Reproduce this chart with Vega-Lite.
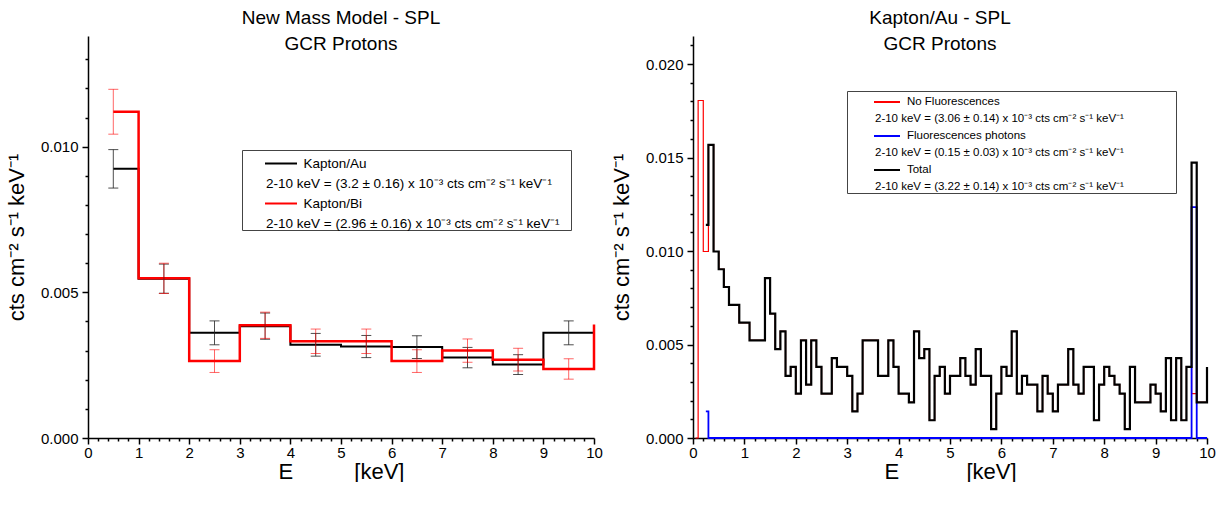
{
  "$schema": "https://vega.github.io/schema/vega-lite/v6.json",
  "background": "white",
  "padding": {"left": 5, "top": 9, "right": 0, "bottom": 0},
  "spacing": 7,
  "resolve": {"scale": {"color": "independent"}, "legend": {"color": "independent"}},
  "config": {
    "font": "Liberation Sans",
    "view": {"stroke": null},
    "axis": {"domainColor": "black", "domainWidth": 1.5, "tickColor": "black", "tickWidth": 1.5, "labelFont": "Liberation Sans", "labelFontSize": 15, "labelColor": "black", "titleFont": "Liberation Sans", "titleFontSize": 22, "titleFontWeight": "normal", "titleColor": "black", "grid": false, "labelFlush": false, "labelOverlap": false, "labelBound": false},
    "title": {"font": "Liberation Sans", "fontSize": 19, "fontWeight": "normal", "color": "black", "lineHeight": 26, "offset": -18, "anchor": "middle"}
  },
  "datasets": {
    "left": [
      {"x": 0.5, "xc": 0.5, "au": 0.00924, "auErr": 0.00066, "bi": 0.0112, "biErr": 0.00077},
      {"x": 1, "xc": 1.5, "au": 0.00547, "auErr": 0.0005, "bi": 0.00548, "biErr": 0.00052},
      {"x": 2, "xc": 2.5, "au": 0.00361, "auErr": 0.00041, "bi": 0.00264, "biErr": 0.00039},
      {"x": 3, "xc": 3.5, "au": 0.00384, "auErr": 0.00045, "bi": 0.00387, "biErr": 0.00045},
      {"x": 4, "xc": 4.5, "au": 0.0032, "auErr": 0.00039, "bi": 0.00332, "biErr": 0.00042},
      {"x": 5, "xc": 5.5, "au": 0.00314, "auErr": 0.00038, "bi": 0.00332, "biErr": 0.00042},
      {"x": 6, "xc": 6.5, "au": 0.00312, "auErr": 0.00039, "bi": 0.00264, "biErr": 0.00039},
      {"x": 7, "xc": 7.5, "au": 0.00276, "auErr": 0.00035, "bi": 0.003, "biErr": 0.0004},
      {"x": 8, "xc": 8.5, "au": 0.00252, "auErr": 0.00034, "bi": 0.00269, "biErr": 0.00039},
      {"x": 9, "xc": 9.5, "au": 0.00361, "auErr": 0.00041, "bi": 0.00237, "biErr": 0.00035},
      {"x": 10, "au": 0.00361, "bi": 0.0039}
    ],
    "right": [
      {"E": 0.05, "nofl": 0},
      {"E": 0.1, "nofl": 0.01805},
      {"E": 0.2, "nofl": 0.009975},
      {"E": 0.25, "fl": 0.001425, "total": 0.0114},
      {"E": 0.3, "nofl": 0.015675, "fl": 0, "total": 0.015675},
      {"E": 0.4, "nofl": 0.009975, "fl": 0, "total": 0.009975},
      {"E": 0.5, "nofl": 0.009025, "fl": 0, "total": 0.009025},
      {"E": 0.6, "nofl": 0.008075, "fl": 0, "total": 0.008075},
      {"E": 0.7, "nofl": 0.007125, "fl": 0, "total": 0.007125},
      {"E": 0.8, "nofl": 0.007125, "fl": 0, "total": 0.007125},
      {"E": 0.9, "nofl": 0.006175, "fl": 0, "total": 0.006175},
      {"E": 1.0, "nofl": 0.006175, "fl": 0, "total": 0.006175},
      {"E": 1.1, "nofl": 0.005225, "fl": 0, "total": 0.005225},
      {"E": 1.2, "nofl": 0.005225, "fl": 0, "total": 0.005225},
      {"E": 1.3, "nofl": 0.005225, "fl": 0, "total": 0.005225},
      {"E": 1.4, "nofl": 0.00855, "fl": 0, "total": 0.00855},
      {"E": 1.5, "nofl": 0.00665, "fl": 0, "total": 0.00665},
      {"E": 1.6, "nofl": 0.00475, "fl": 0, "total": 0.00475},
      {"E": 1.7, "nofl": 0.0057, "fl": 0, "total": 0.0057},
      {"E": 1.8, "nofl": 0.003325, "fl": 0, "total": 0.003325},
      {"E": 1.9, "nofl": 0.0038, "fl": 0, "total": 0.0038},
      {"E": 2.0, "nofl": 0.002375, "fl": 0, "total": 0.002375},
      {"E": 2.1, "nofl": 0.005225, "fl": 0, "total": 0.005225},
      {"E": 2.2, "nofl": 0.00285, "fl": 0, "total": 0.00285},
      {"E": 2.3, "nofl": 0.005225, "fl": 0, "total": 0.005225},
      {"E": 2.4, "nofl": 0.0038, "fl": 0, "total": 0.0038},
      {"E": 2.5, "nofl": 0.002375, "fl": 0, "total": 0.002375},
      {"E": 2.6, "nofl": 0.002375, "fl": 0, "total": 0.002375},
      {"E": 2.7, "nofl": 0.004275, "fl": 0, "total": 0.004275},
      {"E": 2.8, "nofl": 0.0038, "fl": 0, "total": 0.0038},
      {"E": 2.9, "nofl": 0.0038, "fl": 0, "total": 0.0038},
      {"E": 3.0, "nofl": 0.003325, "fl": 0, "total": 0.003325},
      {"E": 3.1, "nofl": 0.001425, "fl": 0, "total": 0.001425},
      {"E": 3.2, "nofl": 0.002375, "fl": 0, "total": 0.002375},
      {"E": 3.3, "nofl": 0.005225, "fl": 0, "total": 0.005225},
      {"E": 3.4, "nofl": 0.005225, "fl": 0, "total": 0.005225},
      {"E": 3.5, "nofl": 0.005225, "fl": 0, "total": 0.005225},
      {"E": 3.6, "nofl": 0.003325, "fl": 0, "total": 0.003325},
      {"E": 3.7, "nofl": 0.003325, "fl": 0, "total": 0.003325},
      {"E": 3.8, "nofl": 0.005225, "fl": 0, "total": 0.005225},
      {"E": 3.9, "nofl": 0.0038, "fl": 0, "total": 0.0038},
      {"E": 4.0, "nofl": 0.002375, "fl": 0, "total": 0.002375},
      {"E": 4.1, "nofl": 0.002375, "fl": 0, "total": 0.002375},
      {"E": 4.2, "nofl": 0.0019, "fl": 0, "total": 0.0019},
      {"E": 4.3, "nofl": 0.0057, "fl": 0, "total": 0.0057},
      {"E": 4.4, "nofl": 0.004275, "fl": 0, "total": 0.004275},
      {"E": 4.5, "nofl": 0.00475, "fl": 0, "total": 0.00475},
      {"E": 4.6, "nofl": 0.00095, "fl": 0, "total": 0.00095},
      {"E": 4.7, "nofl": 0.003325, "fl": 0, "total": 0.003325},
      {"E": 4.8, "nofl": 0.0038, "fl": 0, "total": 0.0038},
      {"E": 4.9, "nofl": 0.002375, "fl": 0, "total": 0.002375},
      {"E": 5.0, "nofl": 0.003325, "fl": 0, "total": 0.003325},
      {"E": 5.1, "nofl": 0.003325, "fl": 0, "total": 0.003325},
      {"E": 5.2, "nofl": 0.004275, "fl": 0, "total": 0.004275},
      {"E": 5.3, "nofl": 0.003325, "fl": 0, "total": 0.003325},
      {"E": 5.4, "nofl": 0.00285, "fl": 0, "total": 0.00285},
      {"E": 5.5, "nofl": 0.00475, "fl": 0, "total": 0.00475},
      {"E": 5.6, "nofl": 0.003325, "fl": 0, "total": 0.003325},
      {"E": 5.7, "nofl": 0.003325, "fl": 0, "total": 0.003325},
      {"E": 5.8, "nofl": 0.000475, "fl": 0, "total": 0.000475},
      {"E": 5.9, "nofl": 0.002375, "fl": 0, "total": 0.002375},
      {"E": 6.0, "nofl": 0.0038, "fl": 0, "total": 0.0038},
      {"E": 6.1, "nofl": 0.003325, "fl": 0, "total": 0.003325},
      {"E": 6.2, "nofl": 0.0057, "fl": 0, "total": 0.0057},
      {"E": 6.3, "nofl": 0.002375, "fl": 0, "total": 0.002375},
      {"E": 6.4, "nofl": 0.003325, "fl": 0, "total": 0.003325},
      {"E": 6.5, "nofl": 0.00285, "fl": 0, "total": 0.00285},
      {"E": 6.6, "nofl": 0.00285, "fl": 0, "total": 0.00285},
      {"E": 6.7, "nofl": 0.001425, "fl": 0, "total": 0.001425},
      {"E": 6.8, "nofl": 0.003325, "fl": 0, "total": 0.003325},
      {"E": 6.9, "nofl": 0.002375, "fl": 0, "total": 0.002375},
      {"E": 7.0, "nofl": 0.001425, "fl": 0, "total": 0.001425},
      {"E": 7.1, "nofl": 0.00285, "fl": 0, "total": 0.00285},
      {"E": 7.2, "nofl": 0.00285, "fl": 0, "total": 0.00285},
      {"E": 7.3, "nofl": 0.00475, "fl": 0, "total": 0.00475},
      {"E": 7.4, "nofl": 0.00285, "fl": 0, "total": 0.00285},
      {"E": 7.5, "nofl": 0.002375, "fl": 0, "total": 0.002375},
      {"E": 7.6, "nofl": 0.0038, "fl": 0, "total": 0.0038},
      {"E": 7.7, "nofl": 0.0038, "fl": 0, "total": 0.0038},
      {"E": 7.8, "nofl": 0.00095, "fl": 0, "total": 0.00095},
      {"E": 7.9, "nofl": 0.00285, "fl": 0, "total": 0.00285},
      {"E": 8.0, "nofl": 0.0038, "fl": 0, "total": 0.0038},
      {"E": 8.1, "nofl": 0.003325, "fl": 0, "total": 0.003325},
      {"E": 8.2, "nofl": 0.00285, "fl": 0, "total": 0.00285},
      {"E": 8.3, "nofl": 0.002375, "fl": 0, "total": 0.002375},
      {"E": 8.4, "nofl": 0.000475, "fl": 0, "total": 0.000475},
      {"E": 8.5, "nofl": 0.0038, "fl": 0, "total": 0.0038},
      {"E": 8.6, "nofl": 0.0019, "fl": 0, "total": 0.0019},
      {"E": 8.7, "nofl": 0.0019, "fl": 0, "total": 0.0019},
      {"E": 8.8, "nofl": 0.0019, "fl": 0, "total": 0.0019},
      {"E": 8.9, "nofl": 0.00285, "fl": 0, "total": 0.00285},
      {"E": 9.0, "nofl": 0.002375, "fl": 0, "total": 0.002375},
      {"E": 9.1, "nofl": 0.001425, "fl": 0, "total": 0.001425},
      {"E": 9.2, "nofl": 0.004275, "fl": 0, "total": 0.004275},
      {"E": 9.3, "nofl": 0.00095, "fl": 0, "total": 0.00095},
      {"E": 9.4, "nofl": 0.004275, "fl": 0, "total": 0.004275},
      {"E": 9.5, "nofl": 0.00095, "fl": 0, "total": 0.00095},
      {"E": 9.6, "nofl": 0.0038, "fl": 0, "total": 0.0038},
      {"E": 9.7, "nofl": 0.002375, "fl": 0.01235, "total": 0.014725},
      {"E": 9.8, "nofl": 0.0019, "fl": 0, "total": 0.0019},
      {"E": 9.9, "nofl": 0.0019, "fl": 0, "total": 0.0019},
      {"E": 10.0, "nofl": 0.0038, "fl": 0, "total": 0.0038}
    ]
  },
  "hconcat": [
    {
      "width": 506,
      "height": 402,
      "title": {"text": ["New Mass Model - SPL", "GCR Protons"]},
      "data": {"name": "left"},
      "layer": [
        {
          "mark": {"type": "line", "interpolate": "step-after", "strokeWidth": 2, "invalid": "filter"},
          "encoding": {
            "x": {"field": "x", "type": "quantitative", "scale": {"domain": [0, 10], "nice": false},
              "axis": {"values": [0,0.2,0.4,0.6,0.8,1,1.2,1.4,1.6,1.8,2,2.2,2.4,2.6,2.8,3,3.2,3.4,3.6,3.8,4,4.2,4.4,4.6,4.8,5,5.2,5.4,5.6,5.8,6,6.2,6.4,6.6,6.8,7,7.2,7.4,7.6,7.8,8,8.2,8.4,8.6,8.8,9,9.2,9.4,9.6,9.8,10],
                "labelExpr": "round(datum.value*10) % 10 === 0 ? format(datum.value, 'd') : ''",
                "tickSize": {"condition": {"test": "round(datum.value*10) % 10 === 0", "value": 6}, "value": 3},
                "labelPadding": 1, "titlePadding": 1,
                "title": "\u00a0\u00a0E\u00a0\u00a0\u00a0\u00a0\u00a0\u00a0\u00a0\u00a0\u00a0\u00a0[keV]"}},
            "y": {"field": "au", "type": "quantitative", "scale": {"domain": [0, 0.0138], "nice": false},
              "axis": {"values": [0,0.001,0.002,0.003,0.004,0.005,0.006,0.007,0.008,0.009,0.01,0.011,0.012,0.013],
                "labelExpr": "round(datum.value*1000) % 5 === 0 ? format(datum.value, '.3f') : ''",
                "tickSize": {"condition": {"test": "round(datum.value*1000) % 5 === 0", "value": 6}, "value": 3},
                "labelPadding": 4, "minExtent": 52, "maxExtent": 52, "titlePadding": 8,
                "title": "cts cm\u207b\u00b2 s\u207b\u00b9 keV\u207b\u00b9"}},
            "color": {"datum": "Kapton/Au", "type": "nominal",
              "scale": {"domain": ["Kapton/Au", "Kapton/Au stat", "Kapton/Bi", "Kapton/Bi stat"], "range": ["#000000", "transparent", "#ff0000", "transparent"]},
              "legend": {"orient": "none", "legendX": 154, "legendY": 114, "direction": "vertical", "title": null,
                "symbolType": "stroke", "symbolSize": 1024, "symbolStrokeWidth": 2, "symbolOffset": 22, "labelOffset": -32,
                "labelFont": "Liberation Sans", "labelFontSize": 13.5, "labelColor": "black", "labelLimit": 1000, "labelBaseline": "middle",
                "padding": 0, "rowPadding": 0, "strokeColor": "#444", "fillColor": "white",
                "labelExpr": "datum.label === 'Kapton/Au' ? '\u200b\u00a0\u00a0\u00a0\u00a0\u00a0\u00a0\u00a0\u00a0\u00a0\u00a0Kapton/Au' : datum.label === 'Kapton/Bi' ? '\u200b\u00a0\u00a0\u00a0\u00a0\u00a0\u00a0\u00a0\u00a0\u00a0\u00a0Kapton/Bi' : datum.label === 'Kapton/Au stat' ? '2-10 keV = (3.2 \u00b1 0.16) x 10\u207b\u00b3 cts cm\u207b\u00b2 s\u207b\u00b9 keV\u207b\u00b9' : '2-10 keV = (2.96 \u00b1 0.16) x 10\u207b\u00b3 cts cm\u207b\u00b2 s\u207b\u00b9 keV\u207b\u00b9\u00a0\u00a0\u00a0\u200b'",
                "encode": {"symbols": {"update": {"y": {"value": 13.5}}}, "labels": {"update": {"y": {"value": 13.5}}}}}}
          }
        },
        {
          "mark": {"type": "line", "interpolate": "step-after", "strokeWidth": 2.5, "invalid": "filter"},
          "encoding": {
            "x": {"field": "x", "type": "quantitative", "scale": {"domain": [0, 10], "nice": false},
              "axis": {"values": [0,0.2,0.4,0.6,0.8,1,1.2,1.4,1.6,1.8,2,2.2,2.4,2.6,2.8,3,3.2,3.4,3.6,3.8,4,4.2,4.4,4.6,4.8,5,5.2,5.4,5.6,5.8,6,6.2,6.4,6.6,6.8,7,7.2,7.4,7.6,7.8,8,8.2,8.4,8.6,8.8,9,9.2,9.4,9.6,9.8,10],
                "labelExpr": "round(datum.value*10) % 10 === 0 ? format(datum.value, 'd') : ''",
                "tickSize": {"condition": {"test": "round(datum.value*10) % 10 === 0", "value": 6}, "value": 3},
                "labelPadding": 1, "titlePadding": 1,
                "title": "\u00a0\u00a0E\u00a0\u00a0\u00a0\u00a0\u00a0\u00a0\u00a0\u00a0\u00a0\u00a0[keV]"}},
            "y": {"field": "bi", "type": "quantitative", "scale": {"domain": [0, 0.0138], "nice": false},
              "axis": {"values": [0,0.001,0.002,0.003,0.004,0.005,0.006,0.007,0.008,0.009,0.01,0.011,0.012,0.013],
                "labelExpr": "round(datum.value*1000) % 5 === 0 ? format(datum.value, '.3f') : ''",
                "tickSize": {"condition": {"test": "round(datum.value*1000) % 5 === 0", "value": 6}, "value": 3},
                "labelPadding": 4, "minExtent": 52, "maxExtent": 52, "titlePadding": 8,
                "title": "cts cm\u207b\u00b2 s\u207b\u00b9 keV\u207b\u00b9"}},
            "color": {"datum": "Kapton/Bi", "type": "nominal"}
          }
        },
        {
          "transform": [{"filter": "datum.xc != null"}],
          "mark": {"type": "errorbar", "color": "#222222", "opacity": 0.8, "ticks": {"size": 10, "thickness": 1}, "rule": {"strokeWidth": 1}},
          "encoding": {
            "x": {"field": "xc", "type": "quantitative", "scale": {"domain": [0, 10], "nice": false},
              "axis": {"values": [0,0.2,0.4,0.6,0.8,1,1.2,1.4,1.6,1.8,2,2.2,2.4,2.6,2.8,3,3.2,3.4,3.6,3.8,4,4.2,4.4,4.6,4.8,5,5.2,5.4,5.6,5.8,6,6.2,6.4,6.6,6.8,7,7.2,7.4,7.6,7.8,8,8.2,8.4,8.6,8.8,9,9.2,9.4,9.6,9.8,10],
                "labelExpr": "round(datum.value*10) % 10 === 0 ? format(datum.value, 'd') : ''",
                "tickSize": {"condition": {"test": "round(datum.value*10) % 10 === 0", "value": 6}, "value": 3},
                "labelPadding": 1, "titlePadding": 1,
                "title": "\u00a0\u00a0E\u00a0\u00a0\u00a0\u00a0\u00a0\u00a0\u00a0\u00a0\u00a0\u00a0[keV]"}},
            "y": {"field": "au", "type": "quantitative", "scale": {"domain": [0, 0.0138], "nice": false},
              "axis": {"values": [0,0.001,0.002,0.003,0.004,0.005,0.006,0.007,0.008,0.009,0.01,0.011,0.012,0.013],
                "labelExpr": "round(datum.value*1000) % 5 === 0 ? format(datum.value, '.3f') : ''",
                "tickSize": {"condition": {"test": "round(datum.value*1000) % 5 === 0", "value": 6}, "value": 3},
                "labelPadding": 4, "minExtent": 52, "maxExtent": 52, "titlePadding": 8,
                "title": "cts cm\u207b\u00b2 s\u207b\u00b9 keV\u207b\u00b9"}},
            "yError": {"field": "auErr"}
          }
        },
        {
          "transform": [{"filter": "datum.xc != null"}],
          "mark": {"type": "errorbar", "color": "#ff0000", "opacity": 0.6, "ticks": {"size": 10, "thickness": 1}, "rule": {"strokeWidth": 1}},
          "encoding": {
            "x": {"field": "xc", "type": "quantitative", "scale": {"domain": [0, 10], "nice": false},
              "axis": {"values": [0,0.2,0.4,0.6,0.8,1,1.2,1.4,1.6,1.8,2,2.2,2.4,2.6,2.8,3,3.2,3.4,3.6,3.8,4,4.2,4.4,4.6,4.8,5,5.2,5.4,5.6,5.8,6,6.2,6.4,6.6,6.8,7,7.2,7.4,7.6,7.8,8,8.2,8.4,8.6,8.8,9,9.2,9.4,9.6,9.8,10],
                "labelExpr": "round(datum.value*10) % 10 === 0 ? format(datum.value, 'd') : ''",
                "tickSize": {"condition": {"test": "round(datum.value*10) % 10 === 0", "value": 6}, "value": 3},
                "labelPadding": 1, "titlePadding": 1,
                "title": "\u00a0\u00a0E\u00a0\u00a0\u00a0\u00a0\u00a0\u00a0\u00a0\u00a0\u00a0\u00a0[keV]"}},
            "y": {"field": "bi", "type": "quantitative", "scale": {"domain": [0, 0.0138], "nice": false},
              "axis": {"values": [0,0.001,0.002,0.003,0.004,0.005,0.006,0.007,0.008,0.009,0.01,0.011,0.012,0.013],
                "labelExpr": "round(datum.value*1000) % 5 === 0 ? format(datum.value, '.3f') : ''",
                "tickSize": {"condition": {"test": "round(datum.value*1000) % 5 === 0", "value": 6}, "value": 3},
                "labelPadding": 4, "minExtent": 52, "maxExtent": 52, "titlePadding": 8,
                "title": "cts cm\u207b\u00b2 s\u207b\u00b9 keV\u207b\u00b9"}},
            "yError": {"field": "biErr"}
          }
        }
      ]
    },
    {
      "width": 514,
      "height": 402,
      "title": {"text": ["Kapton/Au - SPL", "GCR Protons"], "dx": -10},
      "data": {"name": "right"},
      "encoding": {
        "x": {"field": "E", "type": "quantitative", "scale": {"domain": [0, 10], "nice": false},
          "axis": {"values": [0,0.2,0.4,0.6,0.8,1,1.2,1.4,1.6,1.8,2,2.2,2.4,2.6,2.8,3,3.2,3.4,3.6,3.8,4,4.2,4.4,4.6,4.8,5,5.2,5.4,5.6,5.8,6,6.2,6.4,6.6,6.8,7,7.2,7.4,7.6,7.8,8,8.2,8.4,8.6,8.8,9,9.2,9.4,9.6,9.8,10],
            "labelExpr": "round(datum.value*10) % 10 === 0 ? format(datum.value, 'd') : ''",
            "tickSize": {"condition": {"test": "round(datum.value*10) % 10 === 0", "value": 6}, "value": 3},
            "labelPadding": 1, "titlePadding": 1,
            "title": "E\u00a0\u00a0\u00a0\u00a0\u00a0\u00a0\u00a0\u00a0\u00a0\u00a0\u00a0[keV]"}}
      },
      "layer": [
        {
          "mark": {"type": "line", "interpolate": "step-after", "strokeWidth": 1.2, "invalid": "filter"},
          "encoding": {
            "y": {"field": "nofl", "type": "quantitative", "scale": {"domain": [0, 0.0215], "nice": false},
              "axis": {"values": [0,0.001,0.002,0.003,0.004,0.005,0.006,0.007,0.008,0.009,0.01,0.011,0.012,0.013,0.014,0.015,0.016,0.017,0.018,0.019,0.02,0.021],
                "labelExpr": "round(datum.value*1000) % 5 === 0 ? format(datum.value, '.3f') : ''",
                "tickSize": {"condition": {"test": "round(datum.value*1000) % 5 === 0", "value": 6}, "value": 3},
                "labelPadding": 4, "minExtent": 52, "maxExtent": 52, "titlePadding": 8,
                "title": "cts cm\u207b\u00b2 s\u207b\u00b9 keV\u207b\u00b9"}},
            "color": {"datum": "No Fluorescences", "type": "nominal",
              "scale": {"domain": ["No Fluorescences", "No Fluorescences stat", "Fluorescences photons", "Fluorescences photons stat", "Total", "Total stat"], "range": ["#ff0000", "transparent", "#0000ff", "transparent", "#000000", "transparent"]},
              "legend": {"orient": "none", "legendX": 154, "legendY": 55, "direction": "vertical", "title": null,
                "symbolType": "stroke", "symbolSize": 676, "symbolStrokeWidth": 2, "symbolOffset": 26, "labelOffset": -26,
                "labelFont": "Liberation Sans", "labelFontSize": 11.5, "labelColor": "black", "labelLimit": 1000, "labelBaseline": "middle",
                "padding": 0, "rowPadding": 0, "strokeColor": "#444", "fillColor": "white",
                "labelExpr": "datum.label === 'No Fluorescences stat' ? '2-10 keV = (3.06 \u00b1 0.14) x 10\u207b\u00b3 cts cm\u207b\u00b2 s\u207b\u00b9 keV\u207b\u00b9\u00a0\u00a0\u00a0\u00a0\u00a0\u00a0\u00a0\u00a0\u00a0\u00a0\u00a0\u00a0\u00a0\u00a0\u00a0\u00a0\u200b' : datum.label === 'Fluorescences photons stat' ? '2-10 keV = (0.15 \u00b1 0.03) x 10\u207b\u00b3 cts cm\u207b\u00b2 s\u207b\u00b9 keV\u207b\u00b9\u00a0\u00a0\u00a0\u00a0\u00a0\u00a0\u00a0\u00a0\u00a0\u00a0\u00a0\u00a0\u00a0\u00a0\u00a0\u00a0\u200b' : datum.label === 'Total stat' ? '2-10 keV = (3.22 \u00b1 0.14) x 10\u207b\u00b3 cts cm\u207b\u00b2 s\u207b\u00b9 keV\u207b\u00b9\u00a0\u00a0\u00a0\u00a0\u00a0\u00a0\u00a0\u00a0\u00a0\u00a0\u00a0\u00a0\u00a0\u00a0\u00a0\u00a0\u200b' : '\u200b\u00a0\u00a0\u00a0\u00a0\u00a0\u00a0\u00a0\u00a0\u00a0\u00a0' + datum.label",
                "encode": {"symbols": {"update": {"y": {"value": 11}}}, "labels": {"update": {"y": {"value": 11}}}}}}
          }
        },
        {
          "mark": {"type": "line", "interpolate": "step-after", "strokeWidth": 1.8, "invalid": "filter"},
          "encoding": {
            "y": {"field": "fl", "type": "quantitative", "scale": {"domain": [0, 0.0215], "nice": false},
              "axis": {"values": [0,0.001,0.002,0.003,0.004,0.005,0.006,0.007,0.008,0.009,0.01,0.011,0.012,0.013,0.014,0.015,0.016,0.017,0.018,0.019,0.02,0.021],
                "labelExpr": "round(datum.value*1000) % 5 === 0 ? format(datum.value, '.3f') : ''",
                "tickSize": {"condition": {"test": "round(datum.value*1000) % 5 === 0", "value": 6}, "value": 3},
                "labelPadding": 4, "minExtent": 52, "maxExtent": 52, "titlePadding": 8,
                "title": "cts cm\u207b\u00b2 s\u207b\u00b9 keV\u207b\u00b9"}},
            "color": {"datum": "Fluorescences photons", "type": "nominal"}
          }
        },
        {
          "mark": {"type": "line", "interpolate": "step-after", "strokeWidth": 2.2, "invalid": "filter"},
          "encoding": {
            "y": {"field": "total", "type": "quantitative", "scale": {"domain": [0, 0.0215], "nice": false},
              "axis": {"values": [0,0.001,0.002,0.003,0.004,0.005,0.006,0.007,0.008,0.009,0.01,0.011,0.012,0.013,0.014,0.015,0.016,0.017,0.018,0.019,0.02,0.021],
                "labelExpr": "round(datum.value*1000) % 5 === 0 ? format(datum.value, '.3f') : ''",
                "tickSize": {"condition": {"test": "round(datum.value*1000) % 5 === 0", "value": 6}, "value": 3},
                "labelPadding": 4, "minExtent": 52, "maxExtent": 52, "titlePadding": 8,
                "title": "cts cm\u207b\u00b2 s\u207b\u00b9 keV\u207b\u00b9"}},
            "color": {"datum": "Total", "type": "nominal"}
          }
        }
      ]
    }
  ]
}
